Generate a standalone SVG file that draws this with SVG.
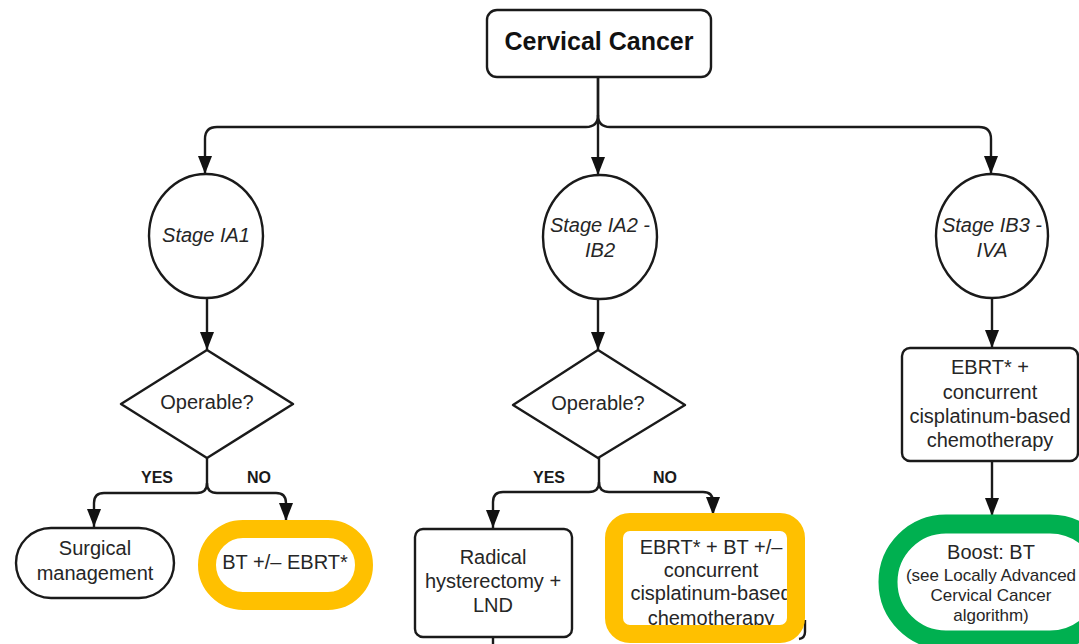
<svg xmlns="http://www.w3.org/2000/svg" width="1079" height="644" viewBox="0 0 1079 644">
<style>
  .shape { fill: #ffffff; stroke: #1a1a1a; stroke-width: 2.4; }
  .under { fill: #ffffff; stroke: none; }
  .conn { fill: none; stroke: #1a1a1a; stroke-width: 2.4; }
  .t { font-family: "Liberation Sans", Arial, sans-serif; font-size: 20px; fill: #262626; text-anchor: middle; }
  .ti { font-style: italic; }
  .small { font-size: 17px; }
  .lbl { font-family: "Liberation Sans", Arial, sans-serif; font-size: 16px; font-weight: bold; fill: #1a1a1a; text-anchor: middle; }
  .title { font-family: "Liberation Sans", Arial, sans-serif; font-size: 25px; font-weight: bold; fill: #111; text-anchor: middle; }
  .orange { fill: none; stroke: #FFC000; stroke-width: 18; }
  .green { fill: none; stroke: #00B050; stroke-width: 19; }
</style>
<defs>
  <marker id="ah" viewBox="0 0 18 14" refX="18" refY="7" markerWidth="18" markerHeight="14" markerUnits="userSpaceOnUse" orient="auto">
    <path d="M0,0 L18,7 L0,14 Z" fill="#111"/>
  </marker>
</defs>

<g id="connectors">
  <path class="conn" d="M598,78 V115 Q598,127 586,127 H217 Q205,127 205,139 V174" marker-end="url(#ah)"/>
  <path class="conn" d="M598,115 Q598,127 610,127 H979 Q991,127 991,139 V174" marker-end="url(#ah)"/>
  <path class="conn" d="M598,78 V175" marker-end="url(#ah)"/>
  <path class="conn" d="M207,298 V350" marker-end="url(#ah)"/>
  <path class="conn" d="M598,299 V350" marker-end="url(#ah)"/>
  <path class="conn" d="M992,298 V348" marker-end="url(#ah)"/>
  <path class="conn" d="M207,458 V483 Q207,493 197,493 H104 Q94,493 94,503 V527" marker-end="url(#ah)"/>
  <path class="conn" d="M207,483 Q207,493 217,493 H276 Q286,493 286,503 V521" marker-end="url(#ah)"/>
  <path class="conn" d="M599,458 V482 Q599,492 589,492 H503 Q493,492 493,502 V528" marker-end="url(#ah)"/>
  <path class="conn" d="M599,482 Q599,492 609,492 H703 Q713,492 713,502 V515" marker-end="url(#ah)"/>
  <path class="conn" d="M992,461 V516" marker-end="url(#ah)"/>
  <path class="conn" d="M493,637 V646"/>
  <text class="lbl" x="157" y="483">YES</text>
  <text class="lbl" x="259" y="483">NO</text>
  <text class="lbl" x="549" y="483">YES</text>
  <text class="lbl" x="665" y="483">NO</text>
</g>

<g id="cervical-cancer">
  <rect class="shape" x="487" y="10" width="224" height="67" rx="10"/>
  <text class="title" x="599" y="50">Cervical Cancer</text>
</g>

<g id="stage-ia1">
  <ellipse class="shape" cx="206" cy="236" rx="57" ry="62"/>
  <text class="t ti" x="206" y="242">Stage IA1</text>
</g>

<g id="stage-ia2-ib2">
  <ellipse class="shape" cx="600" cy="237" rx="57" ry="62"/>
  <text class="t ti" x="600" y="232">Stage IA2 -</text>
  <text class="t ti" x="600" y="257">IB2</text>
</g>

<g id="stage-ib3-iva">
  <ellipse class="shape" cx="992" cy="236" rx="56" ry="62"/>
  <text class="t ti" x="992" y="232">Stage IB3 -</text>
  <text class="t ti" x="992" y="257">IVA</text>
</g>

<g id="operable-1">
  <path class="shape" stroke-linejoin="round" d="M207,350 L293,404 L207,458 L121,404 Z"/>
  <text class="t" x="207" y="409">Operable?</text>
</g>

<g id="operable-2">
  <path class="shape" stroke-linejoin="round" d="M598,350 L685,405 L598,458 L513,405 Z"/>
  <text class="t" x="598" y="410">Operable?</text>
</g>

<g id="surgical-management">
  <rect class="shape" x="16" y="528" width="158" height="70" rx="35"/>
  <text class="t" x="95" y="555">Surgical</text>
  <text class="t" x="95" y="580">management</text>
</g>

<g id="bt-ebrt">
  <rect class="under" x="207" y="529" width="157" height="72" rx="36"/>
  <text class="t" x="285" y="569">BT +/– EBRT*</text>
  <rect class="orange" x="207" y="529" width="157" height="72" rx="36"/>
</g>

<g id="radical-hysterectomy">
  <rect class="shape" x="415" y="529" width="157" height="108" rx="8"/>
  <text class="t" x="493" y="564">Radical</text>
  <text class="t" x="493" y="588">hysterectomy +</text>
  <text class="t" x="493" y="612">LND</text>
</g>

<g id="ebrt-bt-chemo">
  <rect class="under" x="612" y="520" width="192" height="118" rx="8"/>
  <text class="t" x="711" y="554">EBRT* + BT +/–</text>
  <text class="t" x="711" y="577">concurrent</text>
  <text class="t" x="711" y="600">cisplatinum-based</text>
  <text class="t" x="711" y="625">chemotherapy</text>
  <path class="conn" d="M805,620 V632 Q805,638 799,639"/>
  <rect class="orange" x="614" y="522" width="182" height="112" rx="16"/>
</g>

<g id="ebrt-chemo">
  <rect class="shape" x="902" y="348" width="176" height="113" rx="8"/>
  <text class="t" x="990" y="374">EBRT* +</text>
  <text class="t" x="990" y="399">concurrent</text>
  <text class="t" x="990" y="423">cisplatinum-based</text>
  <text class="t" x="990" y="447">chemotherapy</text>
</g>

<g id="boost-bt">
  <rect class="under" x="888" y="524" width="220" height="116" rx="58"/>
  <text class="t" x="991" y="559">Boost: BT</text>
  <text class="t small" x="991" y="581">(see Locally Advanced</text>
  <text class="t small" x="991" y="601">Cervical Cancer</text>
  <text class="t small" x="991" y="621">algorithm)</text>
  <rect class="green" x="888" y="524" width="220" height="116" rx="58"/>
</g>
</svg>
